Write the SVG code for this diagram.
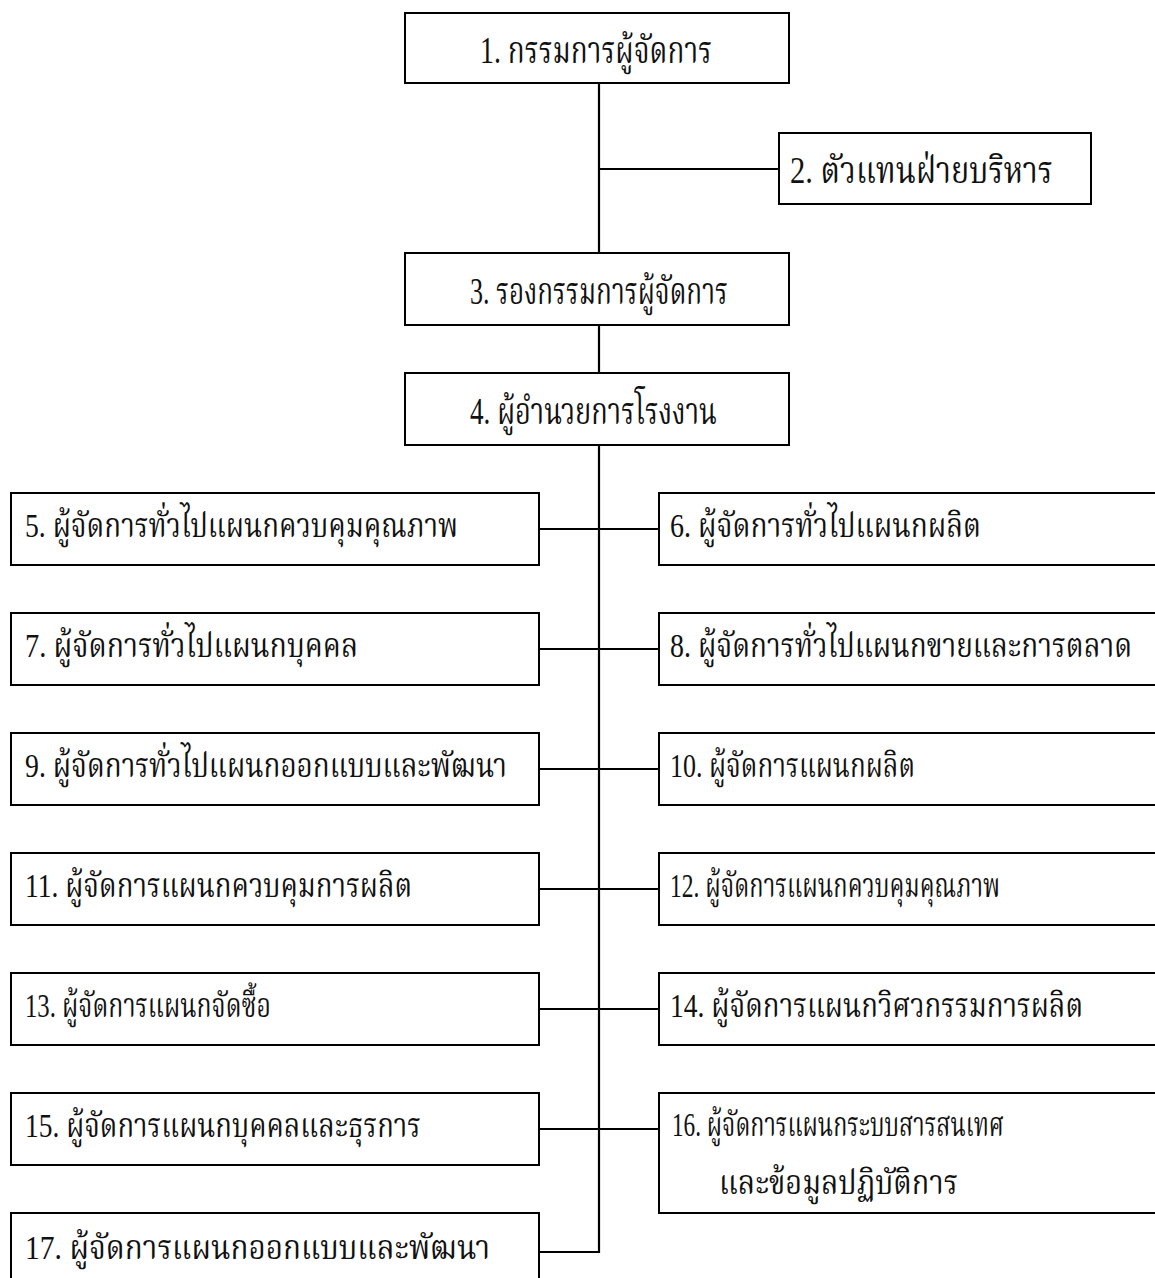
<svg xmlns="http://www.w3.org/2000/svg" width="1155" height="1278" viewBox="0 0 1155 1278">
<style>
.box{fill:#fff;stroke:#000;stroke-width:2}
.ln{stroke:#000;stroke-width:2.2;fill:none}
text{font-family:"Liberation Serif","Noto Serif Thai","Noto Sans Thai","Tlwg Typo",serif;fill:#111}
.t{font-size:37px}
.r{font-size:33px}
</style>
<rect width="1155" height="1278" fill="#fff"/>
<g id="connectors">
<path class="ln" d="M599 83V253M599 325V373M599 445V1252H539M599 169H779M539 529H659M539 649H659M539 769H659M539 889H659M539 1009H659M539 1129H659"/>
</g>
<g id="n1"><rect class="box" x="405" y="13" width="384" height="70"/><text class="t" x="480" y="63" textLength="232" lengthAdjust="spacingAndGlyphs">1. กรรมการผู้จัดการ</text></g>
<g id="n2"><rect class="box" x="779" y="133" width="312" height="71"/><text class="t" x="790" y="183" textLength="263" lengthAdjust="spacingAndGlyphs">2. ตัวแทนฝ่ายบริหาร</text></g>
<g id="n3"><rect class="box" x="405" y="253" width="384" height="72"/><text class="t" x="470" y="304" textLength="258" lengthAdjust="spacingAndGlyphs">3. รองกรรมการผู้จัดการ</text></g>
<g id="n4"><rect class="box" x="405" y="373" width="384" height="72"/><text class="t" x="470" y="424" textLength="247" lengthAdjust="spacingAndGlyphs">4. ผู้อำนวยการโรงงาน</text></g>
<g id="n5"><rect class="box" x="11" y="493" width="528" height="72"/><text class="r" x="25" y="537" textLength="433" lengthAdjust="spacingAndGlyphs">5. ผู้จัดการทั่วไปแผนกควบคุมคุณภาพ</text></g>
<g id="n6"><rect class="box" x="659" y="493" width="500" height="72"/><text class="r" x="670" y="537" textLength="311" lengthAdjust="spacingAndGlyphs">6. ผู้จัดการทั่วไปแผนกผลิต</text></g>
<g id="n7"><rect class="box" x="11" y="613" width="528" height="72"/><text class="r" x="25" y="657" textLength="333" lengthAdjust="spacingAndGlyphs">7. ผู้จัดการทั่วไปแผนกบุคคล</text></g>
<g id="n8"><rect class="box" x="659" y="613" width="500" height="72"/><text class="r" x="670" y="657" textLength="462" lengthAdjust="spacingAndGlyphs">8. ผู้จัดการทั่วไปแผนกขายและการตลาด</text></g>
<g id="n9"><rect class="box" x="11" y="733" width="528" height="72"/><text class="r" x="25" y="777" textLength="482" lengthAdjust="spacingAndGlyphs">9. ผู้จัดการทั่วไปแผนกออกแบบและพัฒนา</text></g>
<g id="n10"><rect class="box" x="659" y="733" width="500" height="72"/><text class="r" x="670" y="777" textLength="245" lengthAdjust="spacingAndGlyphs">10. ผู้จัดการแผนกผลิต</text></g>
<g id="n11"><rect class="box" x="11" y="853" width="528" height="72"/><text class="r" x="25" y="897" textLength="387" lengthAdjust="spacingAndGlyphs">11. ผู้จัดการแผนกควบคุมการผลิต</text></g>
<g id="n12"><rect class="box" x="659" y="853" width="500" height="72"/><text class="r" x="670" y="897" textLength="330" lengthAdjust="spacingAndGlyphs">12. ผู้จัดการแผนกควบคุมคุณภาพ</text></g>
<g id="n13"><rect class="box" x="11" y="973" width="528" height="72"/><text class="r" x="25" y="1017" textLength="246" lengthAdjust="spacingAndGlyphs">13. ผู้จัดการแผนกจัดซื้อ</text></g>
<g id="n14"><rect class="box" x="659" y="973" width="500" height="72"/><text class="r" x="670" y="1017" textLength="413" lengthAdjust="spacingAndGlyphs">14. ผู้จัดการแผนกวิศวกรรมการผลิต</text></g>
<g id="n15"><rect class="box" x="11" y="1093" width="528" height="72"/><text class="r" x="25" y="1137" textLength="396" lengthAdjust="spacingAndGlyphs">15. ผู้จัดการแผนกบุคคลและธุรการ</text></g>
<g id="n16"><rect class="box" x="659" y="1093" width="500" height="120"/><text class="r" x="672" y="1136" textLength="332" lengthAdjust="spacingAndGlyphs">16. ผู้จัดการแผนกระบบสารสนเทศ</text><text class="r" x="719" y="1194" textLength="239" lengthAdjust="spacingAndGlyphs">และข้อมูลปฏิบัติการ</text></g>
<g id="n17"><rect class="box" x="11" y="1213" width="528" height="80"/><text class="r" x="25" y="1259" textLength="465" lengthAdjust="spacingAndGlyphs">17. ผู้จัดการแผนกออกแบบและพัฒนา</text></g>
</svg>
